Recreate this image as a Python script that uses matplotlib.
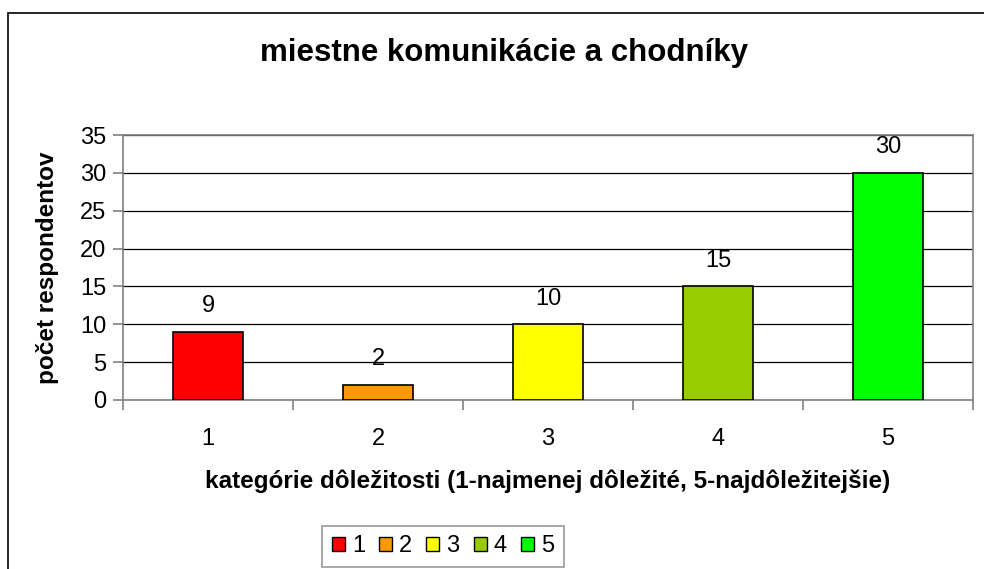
import matplotlib.pyplot as plt
from matplotlib.patches import Rectangle, Patch

plt.rcParams['font.family'] = ['Liberation Sans', 'DejaVu Sans']

# dôležitosť 1..5 a počet respondentov
kategorie = ['1', '2', '3', '4', '5']
pocet = [9, 2, 10, 15, 30]
farby = ['#FF0000', '#FF9900', '#FFFF00', '#99CC00', '#00FF00']

fig = plt.figure(figsize=(9.84, 5.69), dpi=100)
ax = fig.add_axes([123 / 984, 1 - 400 / 569, 850 / 984, 265 / 569])

x = list(range(len(kategorie)))
bars = ax.bar(x, pocet, width=0.41, color=farby, edgecolor='black', linewidth=1.2, zorder=3)

for xi, v in zip(x, pocet):
    ax.text(xi, v + 1.95, str(v), ha='center', va='bottom', fontsize=17)

ax.set_xlim(-0.5, 4.5)
ax.set_ylim(0, 35)
ax.set_yticks(range(0, 36, 5))
ax.yaxis.grid(True, color='black', linewidth=0.9, zorder=0)
ax.set_xticks(x)
ax.set_xticklabels(kategorie)
ax.set_xticks([i - 0.5 for i in range(6)], minor=True)
ax.tick_params(axis='x', which='major', length=0, pad=20, labelsize=17)
ax.tick_params(axis='x', which='minor', length=7, color='#808080', width=1.2)
ax.tick_params(axis='y', length=7, color='#808080', width=1.2, labelsize=17, pad=5)

for s in ax.spines.values():
    s.set_color('#808080')
    s.set_linewidth(1.2)

ax.set_title('miestne komunikácie a chodníky', fontsize=22.5, fontweight='bold', pad=53,
             x=(504 - 123) / 850)
ax.set_xlabel('kategórie dôležitosti (1-najmenej dôležité, 5-najdôležitejšie)',
              fontsize=17.5, fontweight='bold', labelpad=14)
ax.set_ylabel('počet respondentov', fontsize=17.5, fontweight='bold', labelpad=15)

handles = [Patch(facecolor=c, edgecolor='black', label=k) for c, k in zip(farby, kategorie)]
leg = fig.legend(handles=handles, loc='upper center', bbox_to_anchor=(443 / 984, 1 - 514 / 569),
                 ncol=5, fontsize=17, frameon=True, fancybox=False, handlelength=0.55,
                 handleheight=0.55, handletextpad=0.3, columnspacing=0.6, borderpad=0.4)
leg.get_frame().set_edgecolor('#808080')
leg.get_frame().set_linewidth(1.2)

# rámček okolo celého grafu
fig.patches.append(Rectangle((8 / 984, -0.1), 1.2, 1.1 - 13 / 569, transform=fig.transFigure,
                             fill=False, edgecolor='black', linewidth=1.2))

fig.savefig('out.png', dpi=100)
